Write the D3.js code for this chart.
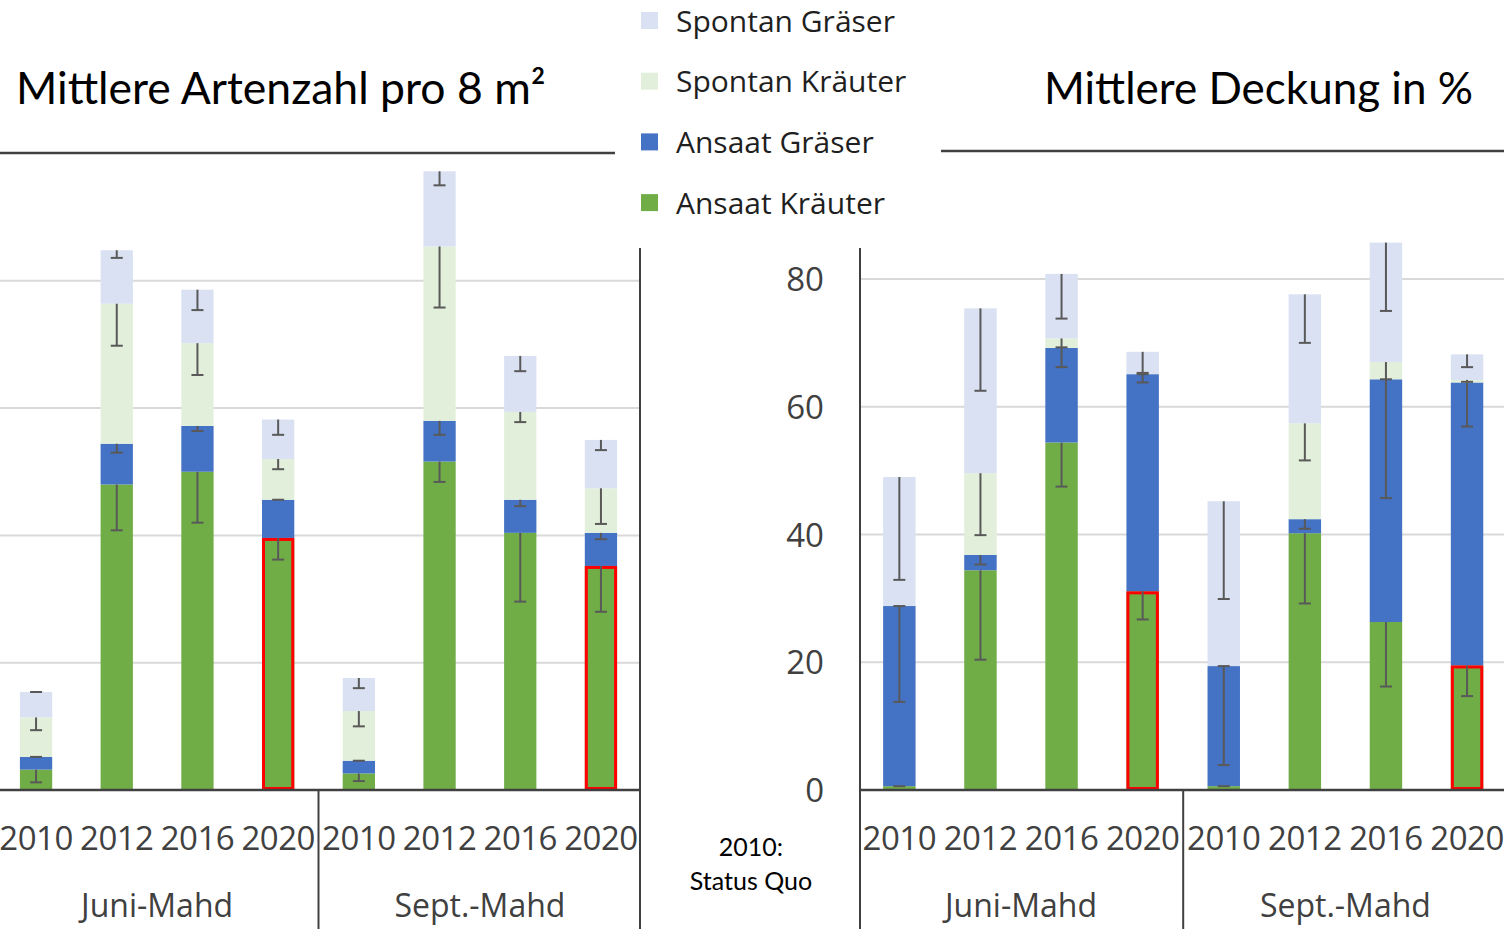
<!DOCTYPE html>
<html>
<head>
<meta charset="utf-8">
<script src="https://cdn.jsdelivr.net/npm/d3@7"></script>
<style>
  body { margin: 0; background: #fff; }
  svg { display: block; }
</style>
</head>
<body>
<div id="chart"></div>
<script>
// --- data -------------------------------------------------------------
const years = ['2010', '2012', '2016', '2020'];
const groups = ['Juni-Mahd', 'Sept.-Mahd'];
const seriesNames = ['Ansaat Kräuter', 'Ansaat Gräser', 'Spontan Kräuter', 'Spontan Gräser'];
const legendOrder = ['Spontan Gräser', 'Spontan Kräuter', 'Ansaat Gräser', 'Ansaat Kräuter'];
const highlightYear = '2020';

// Mittlere Artenzahl pro 8 m² (Juni 2010..2020, Sept 2010..2020)
const artenAnsaatKraeuter = [1.6, 24.0, 25.0, 19.8, 1.3, 25.8, 20.2, 17.6];
const artenAnsaatGraeser = [1.0, 3.2, 3.6, 3.0, 1.0, 3.2, 2.6, 2.6];
const artenSpontanKraeuter = [3.1, 11.0, 6.5, 3.2, 3.9, 13.7, 6.9, 3.5];
const artenSpontanGraeser = [2.0, 4.2, 4.2, 3.1, 2.6, 5.9, 4.4, 3.8];
const artenErrAnsaatKraeuter = [1.0, 3.6, 4.0, 1.7, 0.6, 1.6, 5.4, 3.6];
const artenErrAnsaatGraeser = [0, 0.7, 0.4, 0, 0, 1.1, 0.5, 0.5];
const artenErrSpontanKraeuter = [1.0, 3.3, 2.5, 0.8, 1.2, 4.8, 0.8, 2.8];
const artenErrSpontanGraeser = [0, 0.6, 1.6, 1.2, 0.8, 1.1, 1.2, 0.8];
const artenGridTicks = [10, 20, 30, 40];

// Mittlere Deckung in %
const deckungAnsaatKraeuter = [0.6, 34.4, 54.4, 31.1, 0.6, 40.2, 26.3, 19.5];
const deckungAnsaatGraeser = [28.2, 2.4, 14.8, 34.0, 18.8, 2.2, 38.0, 44.3];
const deckungSpontanKraeuter = [0, 12.8, 1.5, 0, 0, 15.0, 2.7, 0.4];
const deckungSpontanGraeser = [20.2, 25.8, 10.1, 3.5, 25.8, 20.2, 18.7, 4.0];
const deckungErrAnsaatKraeuter = [0, 14.0, 6.9, 4.4, 0, 11.0, 10.1, 4.8];
const deckungErrAnsaatGraeser = [15.0, 1.5, 3.0, 1.3, 15.5, 1.5, 18.6, 6.9];
const deckungErrSpontanKraeuter = [0, 9.7, 1.4, 0, 0, 5.8, 2.7, 0.3];
const deckungErrSpontanGraeser = [16.1, 12.9, 7.0, 3.3, 15.3, 7.6, 10.7, 2.0];
const deckungTicks = [0, 20, 40, 60, 80];

// --- styling ----------------------------------------------------------
const colors = {
	'Ansaat Kräuter': '#70ad47',
	'Ansaat Gräser': '#4472c4',
	'Spontan Kräuter': '#e2efda',
	'Spontan Gräser': '#d9e1f2'
};
const W = 1504, H = 929;
const baseY = 790;
const textFont = 'Lato, "Open Sans", sans-serif';
const tickFont = '"Open Sans", "Noto Sans", sans-serif';
const tickSize = '33px';

const categories = [];
groups.forEach(g => years.forEach(y => categories.push(g + '|' + y)));

function buildRows(values, errors) {
	return categories.map((c, i) => {
		const row = { key: c, year: c.split('|')[1] };
		seriesNames.forEach((s, j) => {
			row[s] = values[j][i];
			row['err_' + s] = errors[j][i];
		});
		return row;
	});
}

const svg = d3.select('#chart').append('svg')
	.attr('width', W)
	.attr('height', H)
	.style('font-family', textFont);

function plotChart(conf) {
	const rows = buildRows(conf.values, conf.errors);
	const x = d3.scaleBand()
		.domain(categories)
		.range(conf.xRange)
		.paddingInner(0.6)
		.paddingOuter(0.3);
	const y = d3.scaleLinear()
		.domain(conf.yDomain)
		.range([baseY, conf.yTop]);

	const g = svg.append('g').classed(conf.name, true);

	// gridlines
	g.append('g')
		.selectAll('line')
		.data(conf.gridTicks)
		.join('line')
			.attr('x1', conf.plotLeft)
			.attr('x2', conf.plotRight)
			.attr('y1', d => y(d))
			.attr('y2', d => y(d))
			.style('stroke', '#d9d9d9')
			.style('stroke-width', '2px');

	// stacked bars
	const stacked = d3.stack().keys(seriesNames)(rows);
	g.append('g')
		.selectAll('g')
		.data(stacked)
		.join('g')
			.attr('fill', d => colors[d.key])
		.selectAll('rect')
		.data(d => d)
		.join('rect')
			.attr('x', d => x(d.data.key))
			.attr('width', x.bandwidth())
			.attr('y', d => y(d[1]))
			.attr('height', d => Math.max(0, y(d[0]) - y(d[1])));

	// red frame on 2020 sown herbs
	g.append('g')
		.selectAll('rect')
		.data(stacked[0].filter(d => d.data.year === highlightYear))
		.join('rect')
			.attr('x', d => x(d.data.key) + 1.5)
			.attr('width', x.bandwidth() - 3)
			.attr('y', d => y(d[1]) + 1.5)
			.attr('height', d => y(d[0]) - y(d[1]) - 3)
			.style('fill', 'none')
			.style('stroke', '#ff0000')
			.style('stroke-width', '3px');

	// minus error bars
	const errG = g.append('g')
		.style('stroke', '#595959')
		.style('stroke-width', '2px');
	stacked.forEach(layer => {
		layer.forEach(d => {
			const cx = x(d.data.key) + x.bandwidth() / 2;
			const top = y(d[1]);
			const bottom = y(d[1] - d.data['err_' + layer.key]);
			errG.append('line')
				.attr('x1', cx).attr('x2', cx)
				.attr('y1', top).attr('y2', bottom);
			errG.append('line')
				.attr('x1', cx - 6).attr('x2', cx + 6)
				.attr('y1', bottom).attr('y2', bottom);
		});
	});

	// category axis
	const axisX = d3.axisBottom(x)
		.tickSize(0)
		.tickPadding(0)
		.tickFormat(d => d.split('|')[1]);
	const xAxisG = g.append('g')
		.attr('transform', `translate(0,${baseY + 60})`)
		.call(axisX);
	xAxisG.select('.domain').remove();
	xAxisG.selectAll('text')
		.attr('dy', 0)
		.style('font-family', tickFont)
		.style('font-size', tickSize)
		.style('letter-spacing', '-0.5px')
		.style('fill', '#404040');

	const step = x.step();
	const groupWidth = step * years.length;
	g.append('g')
		.selectAll('text')
		.data(groups)
		.join('text')
			.attr('x', (d, i) => conf.xRange[0] + groupWidth * i + groupWidth / 2)
			.attr('y', baseY + 127)
			.attr('text-anchor', 'middle')
			.style('font-family', tickFont)
			.style('font-size', '32px')
			.style('fill', '#404040')
			.text(d => d);

	// axis lines
	const lines = g.append('g').style('stroke', '#404040');
	lines.append('line')
		.attr('x1', conf.plotLeft).attr('x2', conf.plotRight)
		.attr('y1', baseY).attr('y2', baseY)
		.style('stroke-width', '2.5px');
	lines.append('line')
		.attr('x1', conf.xRange[0] + groupWidth).attr('x2', conf.xRange[0] + groupWidth)
		.attr('y1', baseY).attr('y2', H)
		.style('stroke-width', '2px');
	lines.append('line')
		.attr('x1', conf.vLine).attr('x2', conf.vLine)
		.attr('y1', 248).attr('y2', H)
		.style('stroke-width', '2px');

	if (conf.showY) {
		const axisY = d3.axisLeft(y)
			.tickValues(deckungTicks)
			.tickSize(0)
			.tickPadding(36);
		const yAxisG = g.append('g')
			.attr('transform', `translate(${conf.vLine},0)`)
			.call(axisY);
		yAxisG.select('.domain').remove();
		yAxisG.selectAll('text')
			.attr('dy', '0.35em')
			.style('font-family', tickFont)
			.style('font-size', tickSize)
			.style('fill', '#404040');
	}
}

plotChart({
	name: 'arten',
	values: [artenAnsaatKraeuter, artenAnsaatGraeser, artenSpontanKraeuter, artenSpontanGraeser],
	errors: [artenErrAnsaatKraeuter, artenErrAnsaatGraeser, artenErrSpontanKraeuter, artenErrSpontanGraeser],
	xRange: [-4.3, 641.3],
	yDomain: [0, 50],
	yTop: baseY - 50 * 12.73,
	gridTicks: artenGridTicks,
	plotLeft: 0,
	plotRight: 641,
	vLine: 640,
	showY: false
});

plotChart({
	name: 'deckung',
	values: [deckungAnsaatKraeuter, deckungAnsaatGraeser, deckungSpontanKraeuter, deckungSpontanGraeser],
	errors: [deckungErrAnsaatKraeuter, deckungErrAnsaatGraeser, deckungErrSpontanKraeuter, deckungErrSpontanGraeser],
	xRange: [858.8, 1507.6],
	yDomain: [0, 80],
	yTop: 279,
	gridTicks: deckungTicks.slice(1),
	plotLeft: 860,
	plotRight: W,
	vLine: 860,
	showY: true
});

// titles and their rules
svg.append('text')
	.attr('x', 16).attr('y', 104)
	.style('font-size', '44.5px')
	.style('fill', '#000')
	.text('Mittlere Artenzahl pro 8 m²');
svg.append('text')
	.attr('x', 1473).attr('y', 104)
	.attr('text-anchor', 'end')
	.style('font-size', '44px')
	.style('fill', '#000')
	.text('Mittlere Deckung in %');
svg.append('line')
	.attr('x1', 0).attr('x2', 615).attr('y1', 153).attr('y2', 153)
	.style('stroke', '#404040').style('stroke-width', '2.5px');
svg.append('line')
	.attr('x1', 941).attr('x2', W).attr('y1', 151).attr('y2', 151)
	.style('stroke', '#404040').style('stroke-width', '2.5px');

// note between the charts
svg.append('text')
	.attr('x', 751).attr('y', 856)
	.attr('text-anchor', 'middle')
	.style('font-size', '25px')
	.text('2010:');
svg.append('text')
	.attr('x', 751).attr('y', 890)
	.attr('text-anchor', 'middle')
	.style('font-size', '25px')
	.text('Status Quo');

// legend
const legend = svg.append('g');
legend.append('rect')
	.attr('x', 615).attr('y', 0)
	.attr('width', 325).attr('height', 245)
	.style('fill', '#fff');
const legendItems = legend.selectAll('g.item')
	.data(legendOrder)
	.join('g')
		.classed('item', true)
		.attr('transform', (d, i) => `translate(641,${21 + i * 60.7})`);
legendItems.append('rect')
	.attr('x', 0).attr('y', -9)
	.attr('width', 17).attr('height', 17)
	.style('fill', d => colors[d]);
legendItems.append('text')
	.attr('x', 35).attr('dy', '0.35em')
	.style('font-family', tickFont)
	.style('font-size', '30px')
	.style('fill', '#1f1f1f')
	.text(d => d);
</script>
</body>
</html>
